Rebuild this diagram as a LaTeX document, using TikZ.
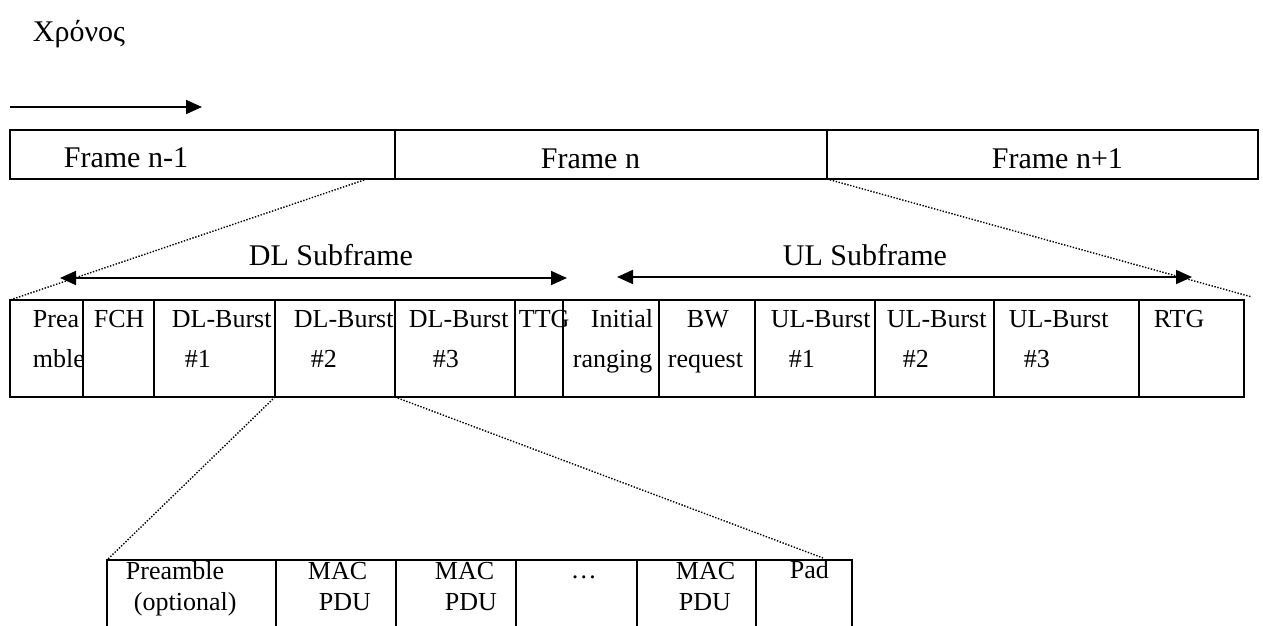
\documentclass[tikz,border=0pt]{standalone}
\usepackage{fontspec}
\setmainfont{Liberation Serif}
\usetikzlibrary{arrows.meta}

\begin{document}
\begin{tikzpicture}[
            x = 0.5pt, y = -0.5pt, % one unit is one pixel of the sketch
            > = {Triangle[length=8pt, width=7pt]}, % arrow head style
            line width = 0.9pt,
            cell/.style = {draw, inner sep = 0pt, outer sep = 0pt},
            txt/.style = {anchor = base west, inner sep = 0pt, font = \fontsize{13}{16}\selectfont},
            big/.style = {anchor = base west, inner sep = 0pt, font = \fontsize{15}{18}\selectfont},
            zoomline/.style = {line width = 0.7pt, dash pattern = on 0.7pt off 0.8pt}
        ]

        \useasboundingbox (0,0) rectangle (1263,626);
        \clip (0,0) rectangle (1263,626);

        % frames
        \foreach \a/\b/\n in {10/395/fa, 395/827/fb, 827/1258/fc}
            \node[cell, minimum width = {(\b-\a)*0.5pt}, minimum height = 24.5pt] (\n) at ({(\a+\b)/2}, 154.5) {};

        % one frame
        \foreach \a/\b/\n in {10/83/pre, 83/154/fch, 154/275/b1, 275/395/b2, 395/515/b3, 515/563/ttg,
                              563/659/rng, 659/755/bw, 755/875/u1, 875/994/u2, 994/1139/u3, 1139/1244/rtg}
            \node[cell, minimum width = {(\b-\a)*0.5pt}, minimum height = 48.5pt] (\n) at ({(\a+\b)/2}, 348.5) {};

        % one burst
        \foreach \a/\b/\n in {107/276/m1, 276/396/m2, 396/516/m3, 516/637/m4, 637/756/m5, 756/852/m6}
            \node[cell, minimum width = {(\b-\a)*0.5pt}, minimum height = 60pt] (\n) at ({(\a+\b)/2}, 620) {};

        \coordinate (t0) at (10,107);
        \coordinate (t1) at (202,107);
        \coordinate (dl0) at (60,278);
        \coordinate (dl1) at (567,278);
        \coordinate (ul0) at (617,277);
        \coordinate (ul1) at (1192,277);
        \coordinate (zl) at (367,179);
        \coordinate (zr) at (1252,297);
        \coordinate (zp) at (823,558);

        \draw[->] (t0) -- (t1);
        \draw[<->] (dl0) -- (dl1);
        \draw[<->] (ul0) -- (ul1);

        \draw[zoomline] (zl) -- (pre.north west);
        \draw[zoomline] (fb.south east) -- (zr);
        \draw[zoomline] (b2.south west) -- (m1.north west);
        \draw[zoomline] (b3.south west) -- (zp);

        % labels
        \foreach \x/\y/\t [count=\i] in {32/42/Χρόνος, 63/168/Frame n-1, 540/169/Frame n, 991/169/Frame n+1,
                                         248/265/DL Subframe, 782/265/UL Subframe}
            \node[big] (h\i) at (\x,\y) {\t};

        \foreach \x/\y/\t [count=\i] in {32/327/Prea, 32/367/mble, 93/327/FCH,
                                         171/327/DL-Burst, 184/367/\#1, 293/327/DL-Burst, 310/367/\#2,
                                         408/327/DL-Burst, 432/367/\#3, 518/327/TTG,
                                         590/327/Initial, 572/367/ranging, 686/327/BW, 667/367/request,
                                         770/327/UL-Burst, 788/367/\#1, 886/327/UL-Burst, 902/367/\#2,
                                         1008/327/UL-Burst, 1023/367/\#3, 1153/327/RTG}
            \node[txt] (c\i) at (\x,\y) {\t};

        \foreach \x/\y/\t [count=\i] in {125/579/Preamble, 133/610/(optional), 307/579/MAC, 318/610/PDU,
                                         434/579/MAC, 444/610/PDU, 570/578/…, 675/579/MAC, 678/610/PDU,
                                         789/578/Pad}
            \node[txt] (p\i) at (\x,\y) {\t};

\end{tikzpicture}
\end{document}
